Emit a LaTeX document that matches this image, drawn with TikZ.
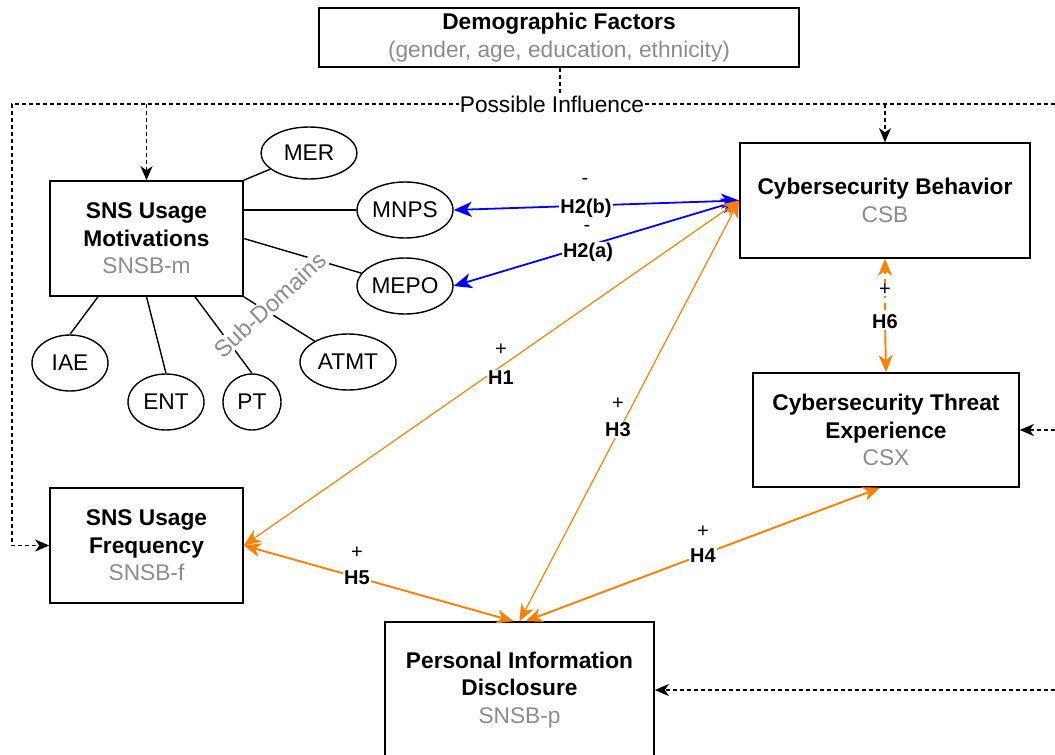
\documentclass[tikz,border=0pt]{standalone}
\usepackage{fontspec}
\setmainfont{Liberation Sans}
\usetikzlibrary{arrows.meta,shapes.geometric}
\definecolor{subgray}{HTML}{8C8C8C}
\definecolor{hypor}{HTML}{FF8000}
\definecolor{hypbl}{HTML}{0000FF}
\newcommand\myfont{\fontsize{22.7}{27.5}\selectfont}
\newcommand\labfont{\fontsize{20}{24}\selectfont}
\tikzset{
  box/.style={draw, line width=1.6pt, align=center, font=\myfont, inner sep=2pt},
  oval/.style={ellipse, draw, line width=1.4pt, inner sep=0pt, font=\myfont},
  link/.style={draw, line width=1.4pt},
  infl/.style={draw, line width=1.3pt, dash pattern=on 4pt off 3pt},
  itip/.style={-{Stealth[length=14pt,width=12pt,inset=4pt]}},
  barrow/.style={draw=hypbl, line width=1.8pt, {Stealth[length=18pt,width=15pt,inset=5pt]}-{Stealth[length=18pt,width=15pt,inset=5pt]}},
  oarrow/.style={draw=hypor, line width=1.9pt, {Stealth[length=17pt,width=14pt,inset=5pt]}-{Stealth[length=17pt,width=14pt,inset=5pt]}},
  othin/.style={oarrow, line width=1.2pt},
  hyp/.style={fill=white, inner sep=1pt, font=\bfseries\labfont},
  sgn/.style={fill=white, inner sep=0.5pt, font=\labfont},
}
\begin{document}
\begin{tikzpicture}[x=1pt,y=-1pt]
\useasboundingbox (0,0) rectangle (1055,755);
\clip (0,0) rectangle (1055,755);

% boxes
\node[box, minimum width=480pt, minimum height=59pt] (demog) at (559,37.5)
  {\textbf{Demographic Factors}\\\textcolor{subgray}{(gender, age, education, ethnicity)}};
\node[box, minimum width=193pt, minimum height=115pt] (sm) at (146.5,238.5)
  {\textbf{SNS Usage}\\\textbf{Motivations}\\\textcolor{subgray}{SNSB-m}};
\node[box, minimum width=290pt, minimum height=115pt] (csb) at (885,200.5)
  {\textbf{Cybersecurity Behavior}\\\textcolor{subgray}{CSB}};
\node[box, minimum width=266pt, minimum height=114pt] (csx) at (886,430)
  {\textbf{Cybersecurity Threat}\\\textbf{Experience}\\\textcolor{subgray}{CSX}};
\node[box, minimum width=193pt, minimum height=115pt] (sf) at (146.5,545.5)
  {\textbf{SNS Usage}\\\textbf{Frequency}\\\textcolor{subgray}{SNSB-f}};
\node[box, minimum width=269pt, minimum height=136pt] (pid) at (519.5,690)
  {\textbf{Personal Information}\\\textbf{Disclosure}\\\textcolor{subgray}{SNSB-p}};

% sub-domain ellipses
\node[oval, minimum width=96pt, minimum height=52pt] (mer) at (309,153) {MER};
\node[oval, minimum width=96pt, minimum height=56pt] (mnps) at (405,210) {MNPS};
\node[oval, minimum width=96pt, minimum height=56pt] (mepo) at (405,286) {MEPO};
\node[oval, minimum width=76pt, minimum height=56pt] (iae) at (70,363) {IAE};
\node[oval, minimum width=76pt, minimum height=56pt] (ent) at (166,402) {ENT};
\node[oval, minimum width=58pt, minimum height=56pt] (pt) at (252,402) {PT};
\node[oval, minimum width=96pt, minimum height=56pt] (atmt) at (348,362) {ATMT};

% sub-domain links
\draw[link] (sm.north east) -- (mer);
\draw[link] (sm.east |- mnps.west) -- (mnps.west);
\draw[link] (sm.east) -- (mepo);
\draw[link] ([xshift=-48.5pt]sm.south) -- (iae.north);
\draw[link] (sm.south) -- (ent.north);
\draw[link] ([xshift=48.5pt]sm.south) -- (pt.north);
\draw[link] (sm.south east) -- (atmt);
\node[rotate=42.7, fill=white, inner sep=1pt, text=subgray, font=\fontsize{23.5}{27}\selectfont] (subd) at (270,305) {Sub-Domains};

% possible influence (dashed)
\coordinate (pl) at (12,104);
\coordinate (pr) at (1055,104);
\coordinate (pm) at (560,104);
\draw[infl] (demog.south -| pm) -- (pm);
\draw[infl, itip] (pr) -- (pl) -- (pl |- sf.west) -- (sf.west);
\draw[infl, itip] (sm.north |- pl) -- (sm.north);
\draw[infl, itip] (csb.north |- pl) -- (csb.north);
\draw[infl, itip] (csx.east -| pr) -- (csx.east);
\draw[infl, itip] (pid.east -| pr) -- (pid.east);
\node[fill=white, inner sep=1pt, font=\myfont] (pinf) at (552,104) {Possible Influence};

% hypotheses
\draw[barrow] (mnps.east) -- (csb.west);
\draw[barrow] (mepo.east) -- (csb.west);
\draw[othin] (sf.east) -- (csb.west);
\draw[othin] ([xshift=0pt]pid.north) -- (csb.west);
\draw[oarrow] ([xshift=6pt]pid.north) -- ([xshift=-6pt]csx.south);
\draw[oarrow] (sf.east) -- ([xshift=-6pt]pid.north);
\coordinate (h6c) at (885,322);
\draw[draw=hypor, line width=1.9pt, dash pattern=on 7pt off 5pt, -{Stealth[length=17pt,width=14pt,inset=5pt]}] (h6c) -- (csb.south);
\draw[draw=hypor, line width=1.9pt, -{Stealth[length=17pt,width=14pt,inset=5pt]}] (h6c) -- (csx.north);

% hypothesis labels
\node[sgn] (s2b) at (585,181) {-};
\node[hyp] (l2b) at (586,208) {H2(b)};
\node[sgn] (s2a) at (587,228) {-};
\node[hyp] (l2a) at (588,252) {H2(a)};
\node[sgn, fill=none] (s1) at (501,350) {+};
\node[hyp] (l1) at (501,378) {H1};
\node[sgn, fill=none] (s3) at (618,404) {+};
\node[hyp] (l3) at (618,430) {H3};
\node[sgn, fill=none] (s4) at (703,532) {+};
\node[hyp] (l4) at (703,556) {H4};
\node[sgn, fill=none] (s5) at (357,553) {+};
\node[hyp] (l5) at (357,578) {H5};
\node[sgn] (s6) at (885,290) {+};
\node[hyp] (l6) at (885,322) {H6};
\end{tikzpicture}
\end{document}
